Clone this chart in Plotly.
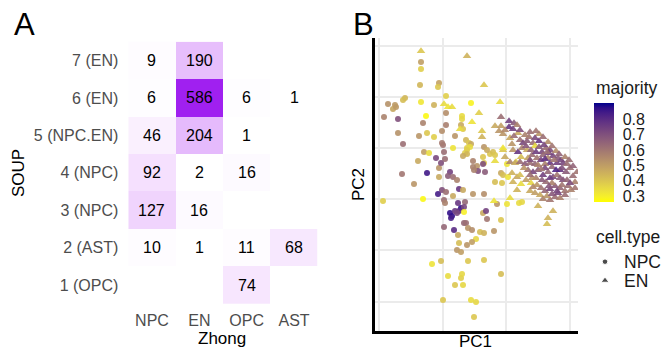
import plotly.graph_objects as go

# ---------------- data: panel A (SOUP vs Zhong contingency) ----------------
zhong_types = ["NPC", "EN", "OPC", "AST"]
soup_clusters = ["1 (OPC)", "2 (AST)", "3 (NPC)", "4 (NPC)", "5 (NPC.EN)", "6 (EN)", "7 (EN)"]
counts_1_opc = [None, None, 74, None]
counts_2_ast = [10, 1, 11, 68]
counts_3_npc = [127, 16, None, None]
counts_4_npc = [92, 2, 16, None]
counts_5_npcen = [46, 204, 1, None]
counts_6_en = [6, 586, 6, 1]
counts_7_en = [9, 190, None, None]

# ---------------- data: panel B (PCA) ----------------
npc_pc1 = [-8.5, -8.5, -8.6, -6.7, -6.8, -6.0, -8.5, -7.2, -3.5, -10.1, -10.3, -11.8, -11.1, -11.3, -11.0,
           -12.2, -10.8, -8.0, -6.0, -4.4, -4.4, -4.5, -6.0, -10.8, -8.7, -7.9, -7.2, -6.4, -5.1, -10.3,
           -4.0, -3.7, -3.5, -3.9, -5.3, -6.3, -6.4, -2.2, -3.6, -3.9, -8.3, -4.3,
           -8.2, -7.7, -7.0, -6.2, -6.1, -8.8, -6.7, -10.4, -7.9, -5.6, -4.1, -3.9, -4.3, -3.3, -2.9,
           -2.2, -2.8, -2.1, -3.2, -2.3, -1.6, -1.3, -1.1, -1.9, -6.5, -9.2, -6.7, -5.8, -5.3, -4.9,
           -3.3, -2.3, 0.1, -0.5, -0.3, 0.2, -1.1, -0.4, -6.4,
           -12.3, -8.3, -6.8, -6.0, -6.2, -6.1, -5.3, -4.7, -4.3, -4.8, -4.1, -4.5, -4.2, -4.7, -5.6,
           -5.4, -5.5, -5.1, -4.9, -3.3, -2.2, -2.3, -2.0, -0.5, -4.2, -4.0, -6.2, -5.2, -3.8, -3.4,
           -2.6, -2.2, -1.2, -4.8, -3.0, -3.4, -3.9, -4.7, -4.9, -4.5, -6.5, -7.4, -3.8, -2.2, -0.5,
           -5.8, -4.5, -4.4, -5.1, -4.3, -6.3, -3.5, -3.0, -3.2, -4.2, 0.1, 1.3, 1.6, -0.9, -1.9]
npc_pc2 = [8.6, 7.9, 6.3, 6.5, 6.1, 5.2, 4.6, 4.3, 4.5, 5.0, 4.8, 4.4, 4.3, 3.9, 4.1,
           3.1, 2.9, 3.2, 3.5, 3.2, 2.9, 2.3, 2.3, 1.5, 1.2, 1.5, 1.1, 1.7, 1.2, 0.4,
           0.8, 0.5, 0.4, 0.0, 0.0, 0.3, 0.5, 0.1, 0.1, -0.2, 2.5, 1.9,
           -0.4, -0.5, -1.0, -0.4, -1.1, -1.3, -2.0, -2.6, -2.5, -2.4, -0.5, -0.6, -0.8, -1.3, -1.8,
           -1.5, -2.3, -2.4, -2.2, -0.9, -0.6, -0.4, -0.7, -0.2, -1.5, -3.6, -2.9, -2.8, -2.9, -3.2,
           -1.9, -1.6, -1.6, -2.5, -2.7, -2.9, -3.4, -3.5, -4.2,
           -5.3, -5.1, -4.6, -4.4, -5.2, -5.5, -4.8, -4.1, -4.2, -5.5, -5.4, -6.0, -5.9, -6.3, -6.5,
           -6.8, -7.0, -6.3, -6.5, -4.6, -4.6, -6.5, -6.3, -7.2, -7.5, -7.5, -7.9, -8.2, -8.0, -8.2,
           -8.4, -8.5, -8.3, -8.7, -9.1, -9.4, -9.7, -9.5, -10.2, -10.4, -11.3, -11.6, -11.3, -11.2, -12.6,
           -12.8, -13.0, -12.6, -13.7, -13.7, -15.2, -15.2, -15.4, -16.9, -6.4, -5.6, -5.5, -5.4, -5.6, -7.1]
npc_majority = [0.50, 0.38, 0.44, 0.49, 0.40, 0.38, 0.32, 0.45, 0.29, 0.44, 0.42, 0.53, 0.51, 0.48, 0.51,
                0.57, 0.70, 0.28, 0.54, 0.35, 0.36, 0.47, 0.58, 0.53, 0.52, 0.40, 0.38, 0.54, 0.52, 0.62,
                0.44, 0.40, 0.47, 0.38, 0.33, 0.60, 0.59, 0.52, 0.35, 0.38, 0.57, 0.40,
                0.50, 0.35, 0.72, 0.62, 0.62, 0.47, 0.52, 0.60, 0.85, 0.74, 0.38, 0.44, 0.47, 0.57, 0.52,
                0.40, 0.70, 0.67, 0.57, 0.40, 0.40, 0.42, 0.40, 0.47, 0.70, 0.52, 0.47, 0.67, 0.62, 0.57,
                0.57, 0.70, 0.33, 0.47, 0.42, 0.33, 0.42, 0.40, 0.70,
                0.38, 0.28, 0.84, 0.62, 0.62, 0.57, 0.47, 0.77, 0.47, 0.77, 0.64, 0.87, 0.72, 0.80, 0.87,
                0.87, 0.84, 0.77, 0.72, 0.52, 0.54, 0.47, 0.74, 0.40, 0.64, 0.62, 0.64, 0.80, 0.52, 0.54,
                0.42, 0.45, 0.52, 0.47, 0.36, 0.50, 0.52, 0.42, 0.52, 0.50, 0.42, 0.33, 0.40, 0.40, 0.42,
                0.35, 0.38, 0.36, 0.40, 0.36, 0.40, 0.35, 0.36, 0.40, 0.30, 0.33, 0.35, 0.36, 0.52, 0.60]

en_pc1 = [-8.5, -3.9, -2.2, -6.2, -5.8, -5.4, -0.6, -2.7, -3.4, -4.6, -2.4, -2.4, -0.3, -1.1, -1.2,
          -0.5, 0.3, 0.8, -1.1, -0.5, 0.3, 1.1, 0.7, -0.3, -0.7, 2.4, 3.3, 0.4, 1.4, 1.7, 2.1, 2.3,
          2.9, 3.3, 3.7, 4.2, 1.2, 1.9, 2.7, 0.6,
          -0.3, 0.7, 1.2, 1.6, 2.1, 2.9, 3.3, 3.6, 3.7, 4.0, 4.4, 5.0, 4.7, 4.2, 2.6, 2.2, 3.1, 3.5,
          5.2, 5.5, 4.4, 5.1, 5.7, 1.0, 0.4, 0.9, 1.4, 1.9, 2.4, 2.9, 3.9, 6.1, -0.1, 1.5, 2.5, 5.9,
          0.6, 1.1, 1.4, 0.7, 1.5, 2.5, 2.2, 2.7, 3.2, 3.7, 4.2, 4.7, 5.1, 5.7, 5.4, 6.0, 6.4, 6.7,
          6.9, 3.0, 1.8, 1.1, 3.1, 3.5, 3.9, 4.4, 4.9, 5.4, 5.9, 6.2, 6.5, 4.0, 4.6, 2.4, 3.4, 3.7,
          4.4, 4.9, 5.4, 4.1, 0.4, 3.2, 4.7, 4.2, 4.1, 2.9, 5.2, 6.9,
          5.4, 3.9, 4.6, 3.2, 5.0, 3.6, 6.1, 2.6, 4.3, 5.6,
          2.0, 3.8, 4.6, 3.0, 4.1, 5.3, 2.4, 3.9, 4.8, 6.3, 6.7, 3.5, 2.4, 4.4, 6.4, 5.6, 5.1, 4.3,
          2.7, 2.0, 7.1, 5.9, 4.6, 0.8, -0.1, 1.4, 3.0]
en_pc2 = [9.7, 9.2, 6.3, 4.4, 4.1, 4.1, 4.6, 3.5, 2.6, 1.9, 1.7, 1.1, -0.2, -1.3, -5.3,
          3.1, 2.7, 2.5, 2.2, 2.2, 2.1, 2.3, 1.9, 1.4, 1.7, 1.6, 1.4, 1.0, 0.8, 0.5, 0.7, 1.1,
          1.0, 0.7, 1.1, 0.6, 1.5, 1.3, 0.5, 0.4,
          0.0, -0.2, -0.4, 0.0, -0.2, 0.2, 0.1, -0.4, -0.7, 0.0, -0.2, -0.3, -0.8, -1.0, -0.7, -1.0, -1.0, -1.2,
          -1.0, -1.2, -1.5, -1.5, -1.5, -1.4, -1.4, -1.5, -1.4, -1.6, -1.5, -1.6, -1.6, -1.6, -0.9, -0.9, -0.2, -0.9,
          -2.5, -2.9, -2.7, -3.4, -3.6, -3.5, -2.2, -2.4, -2.2, -2.7, -2.4, -2.9, -2.7, -3.2, -2.2, -2.4, -2.0, -2.8,
          -3.4, -3.0, -2.0, -4.2, -3.7, -4.0, -4.3, -4.1, -3.8, -4.0, -4.3, -3.8, -4.2, -3.4, -3.5, -4.3, -4.7, -5.1,
          -5.2, -4.9, -5.0, -4.8, -5.0, -5.8, -6.3, -7.0, -7.6, -4.5, -4.5, -4.0,
          -3.0, -2.0, -1.9, -1.7, -2.2, -3.2, -3.2, -3.0, -0.5, -2.0,
          0.2, 0.3, 0.2, -0.4, -0.4, -0.6, -1.2, -1.1, -1.2, -1.2, -1.8, -2.1, -2.7, -3.0, -3.5, -3.7, -4.3, -3.8,
          -3.9, -3.2, -2.4, -4.7, -4.6, 1.2, 1.8, 1.8, 1.7]
en_majority = [0.40, 0.45, 0.40, 0.35, 0.33, 0.35, 0.35, 0.38, 0.33, 0.35, 0.40, 0.45, 0.40, 0.35, 0.33,
               0.62, 0.74, 0.67, 0.47, 0.50, 0.77, 0.57, 0.74, 0.52, 0.52, 0.62, 0.52, 0.47, 0.62, 0.72, 0.67, 0.60,
               0.72, 0.77, 0.62, 0.54, 0.47, 0.57, 0.62, 0.52,
               0.33, 0.52, 0.77, 0.57, 0.47, 0.35, 0.67, 0.72, 0.64, 0.62, 0.70, 0.54, 0.72, 0.57, 0.62, 0.50, 0.60, 0.74,
               0.67, 0.72, 0.77, 0.74, 0.72, 0.38, 0.57, 0.47, 0.62, 0.67, 0.62, 0.64, 0.57, 0.62, 0.47, 0.42, 0.64, 0.57,
               0.45, 0.48, 0.42, 0.45, 0.35, 0.36, 0.62, 0.72, 0.67, 0.74, 0.64, 0.72, 0.60, 0.70, 0.77, 0.67, 0.62, 0.62,
               0.57, 0.57, 0.52, 0.45, 0.52, 0.60, 0.64, 0.72, 0.67, 0.64, 0.60, 0.62, 0.57, 0.62, 0.57, 0.47, 0.47, 0.57,
               0.60, 0.62, 0.57, 0.52, 0.35, 0.45, 0.45, 0.45, 0.42, 0.50, 0.72, 0.60,
               0.67, 0.72, 0.64, 0.57, 0.82, 0.67, 0.64, 0.52, 0.74, 0.70,
               0.68, 0.72, 0.60, 0.75, 0.62, 0.65, 0.70, 0.78, 0.60, 0.62, 0.65, 0.60, 0.62, 0.75, 0.70, 0.60,
               0.72, 0.68, 0.55, 0.50, 0.60, 0.62, 0.68, 0.62, 0.55, 0.70, 0.60]

majority_ticks = [0.3, 0.4, 0.5, 0.6, 0.7, 0.8]
majority_limits = [0.263, 0.908]
pc1_grid = [-12.7, -6.35, 0, 6.35]
pc2_grid = [10.24, 5.12, 0, -5.12, -10.24, -15.36]
cell_types = ["NPC", "EN"]

# ---------------- colour helpers (CIELAB interpolation like ggplot2) ----------------
def _hex_to_rgb(h):
    h = h.lstrip("#")
    return [int(h[i:i + 2], 16) for i in (0, 2, 4)]

def _to_lin(c):
    c = c / 255.0
    return c / 12.92 if c <= 0.04045 else ((c + 0.055) / 1.055) ** 2.4

def _from_lin(c):
    v = 12.92 * c if c <= 0.0031308 else 1.055 * (max(c, 0) ** (1 / 2.4)) - 0.055
    return int(max(0, min(255, round(v * 255))))

_WN = (0.95047, 1.0, 1.08883)
_D = 6 / 29

def _f(t):
    return t ** (1 / 3) if t > _D ** 3 else t / (3 * _D ** 2) + 4 / 29

def _finv(t):
    return t ** 3 if t > _D else 3 * _D ** 2 * (t - 4 / 29)

def _rgb_to_lab(rgb):
    r, g, b = [_to_lin(c) for c in rgb]
    X = 0.4124 * r + 0.3576 * g + 0.1805 * b
    Y = 0.2126 * r + 0.7152 * g + 0.0722 * b
    Z = 0.0193 * r + 0.1192 * g + 0.9505 * b
    fx, fy, fz = _f(X / _WN[0]), _f(Y / _WN[1]), _f(Z / _WN[2])
    return (116 * fy - 16, 500 * (fx - fy), 200 * (fy - fz))

def _lab_to_hex(lab):
    L, a, b = lab
    fy = (L + 16) / 116
    fx = fy + a / 500
    fz = fy - b / 200
    X, Y, Z = _WN[0] * _finv(fx), _WN[1] * _finv(fy), _WN[2] * _finv(fz)
    r = 3.2406 * X - 1.5372 * Y - 0.4986 * Z
    g = -0.9689 * X + 1.8758 * Y + 0.0415 * Z
    bb = 0.0557 * X - 0.2040 * Y + 1.0570 * Z
    return "#%02x%02x%02x" % (_from_lin(r), _from_lin(g), _from_lin(bb))

def lab_scale(low, high, n=21):
    l1, l2 = _rgb_to_lab(_hex_to_rgb(low)), _rgb_to_lab(_hex_to_rgb(high))
    out = []
    for i in range(n):
        t = i / (n - 1)
        out.append([t, _lab_to_hex(tuple(l1[k] + (l2[k] - l1[k]) * t for k in range(3)))])
    return out

heat_scale = lab_scale("#FFFFFF", "#A020F0")
maj_scale = lab_scale("#FFFF00", "#00008B")

FONT = "Liberation Sans, Arial, Helvetica, sans-serif"
W, H = 665, 350
TXT = "#1a1a1a"

def px(x):
    return x / W

def py(y):
    return 1 - y / H

fig = go.Figure()

# ---------------- panel A ----------------
z = [counts_1_opc, counts_2_ast, counts_3_npc, counts_4_npc, counts_5_npcen, counts_6_en, counts_7_en]
fig.add_trace(go.Heatmap(
    x=zhong_types, y=soup_clusters, z=z, colorscale=heat_scale, zmin=1, zmax=586,
    showscale=False, hoverinfo="skip", xaxis="x", yaxis="y",
))
annotations = []
for r, row in zip(soup_clusters, z):
    for c, v in zip(zhong_types, row):
        if v is not None:
            annotations.append(dict(x=c, y=r, xref="x", yref="y", text=str(v), showarrow=False,
                                    font=dict(family=FONT, size=16, color="black")))

# ---------------- panel B ----------------
CB_TOP, CB_BOT, CB_L, CB_W = 102.7, 201.7, 594, 20
common_marker = dict(colorscale=maj_scale, cmin=majority_limits[0], cmax=majority_limits[1], opacity=0.9,
                     line=dict(width=0))
fig.add_trace(go.Scatter(
    x=npc_pc1, y=npc_pc2, mode="markers", xaxis="x2", yaxis="y2", showlegend=False, hoverinfo="skip",
    marker=dict(symbol="circle", size=6, color=npc_majority, showscale=True,
                colorbar=dict(x=px(CB_L), xanchor="left", xpad=0, y=py((CB_TOP + CB_BOT) / 2),
                              yanchor="middle", ypad=0,
                              len=CB_BOT - CB_TOP, lenmode="pixels", thickness=CB_W, thicknessmode="pixels",
                              outlinewidth=0, tickvals=majority_ticks,
                              ticktext=[str(v) for v in majority_ticks],
                              ticks="outside", ticklen=6, tickcolor="rgba(0,0,0,0)", tickwidth=1,
                              tickfont=dict(family=FONT, size=16, color=TXT)),
                **common_marker),
))
fig.add_trace(go.Scatter(
    x=en_pc1, y=en_pc2, mode="markers", xaxis="x2", yaxis="y2", showlegend=False, hoverinfo="skip",
    marker=dict(symbol="triangle-up", size=7.5, color=en_majority, showscale=False, **common_marker),
))

# white tick marks on both edges of the colour bar (ggplot style)
shapes = []
for v in majority_ticks:
    yy = CB_BOT - (v - majority_limits[0]) / (majority_limits[1] - majority_limits[0]) * (CB_BOT - CB_TOP)
    for x0, x1 in ((CB_L, CB_L + 4), (CB_L + CB_W - 4, CB_L + CB_W)):
        shapes.append(dict(type="line", xref="paper", yref="paper", x0=px(x0), x1=px(x1),
                           y0=py(yy), y1=py(yy), line=dict(color="white", width=1)))

# cell.type legend keys (drawn on a hidden full-figure overlay axis in pixel units)
fig.add_trace(go.Scatter(x=[605, 605], y=[261.7, 280.5], mode="markers", xaxis="x3", yaxis="y3",
                         showlegend=False, hoverinfo="skip",
                         marker=dict(symbol=["circle", "triangle-up"], size=[5.5, 7], color="black")))

def txt(x, y, s, size, color="black", angle=0, xanchor="center", yanchor="middle"):
    annotations.append(dict(x=px(x), y=py(y), xref="paper", yref="paper", text=s, showarrow=False,
                            xanchor=xanchor, yanchor=yanchor, textangle=angle,
                            font=dict(family=FONT, size=size, color=color)))

txt(24.5, 24, "A", 31)
txt(363, 24, "B", 31)
txt(222, 338.5, "Zhong", 17)
txt(19, 173, "SOUP", 17, angle=-90)
txt(475, 341.5, "PC1", 17)
txt(358, 185, "PC2", 17, angle=-90)
txt(594, 88, "majority", 17.5, color=TXT, xanchor="left")
txt(594, 237, "cell.type", 17.5, color=TXT, xanchor="left")
txt(622, 261.7, cell_types[0], 17.5, color=TXT, xanchor="left")
txt(622, 280.5, cell_types[1], 17.5, color=TXT, xanchor="left")

fig.update_layout(
    width=W, height=H, autosize=False, margin=dict(l=0, r=0, t=0, b=0),
    paper_bgcolor="white", plot_bgcolor="rgba(0,0,0,0)",
    font=dict(family=FONT, color="black"),
    annotations=annotations, shapes=shapes,
    showlegend=False,
    xaxis=dict(domain=[px(128.3), px(317.7)], anchor="y", type="category",
               categoryorder="array", categoryarray=zhong_types,
               showgrid=False, zeroline=False, showline=False, ticks="",
               tickfont=dict(family=FONT, size=16, color="#4D4D4D"), ticklabelstandoff=5),
    yaxis=dict(domain=[py(304), py(41.7)], anchor="x", type="category",
               categoryorder="array", categoryarray=soup_clusters,
               showgrid=False, zeroline=False, showline=False, ticks="",
               tickfont=dict(family=FONT, size=16, color="#4D4D4D"), ticklabelstandoff=9),
    xaxis2=dict(domain=[px(375), px(578)], anchor="y2", range=[-13.1, 7.2],
                tickvals=pc1_grid, showticklabels=False, ticks="",
                showgrid=True, gridcolor="#EBEBEB", gridwidth=1.8, zeroline=False,
                showline=True, linecolor="black", linewidth=2.5),
    yaxis2=dict(domain=[py(331), py(38)], anchor="x2", range=[-18.3, 11.0],
                tickvals=pc2_grid, showticklabels=False, ticks="",
                showgrid=True, gridcolor="#EBEBEB", gridwidth=1.8, zeroline=False,
                showline=True, linecolor="black", linewidth=2.5),
    xaxis3=dict(domain=[0, 1], anchor="y3", range=[0, W], visible=False, fixedrange=True),
    yaxis3=dict(domain=[0, 1], anchor="x3", range=[H, 0], visible=False, fixedrange=True),
)

fig.write_html("out.html")
